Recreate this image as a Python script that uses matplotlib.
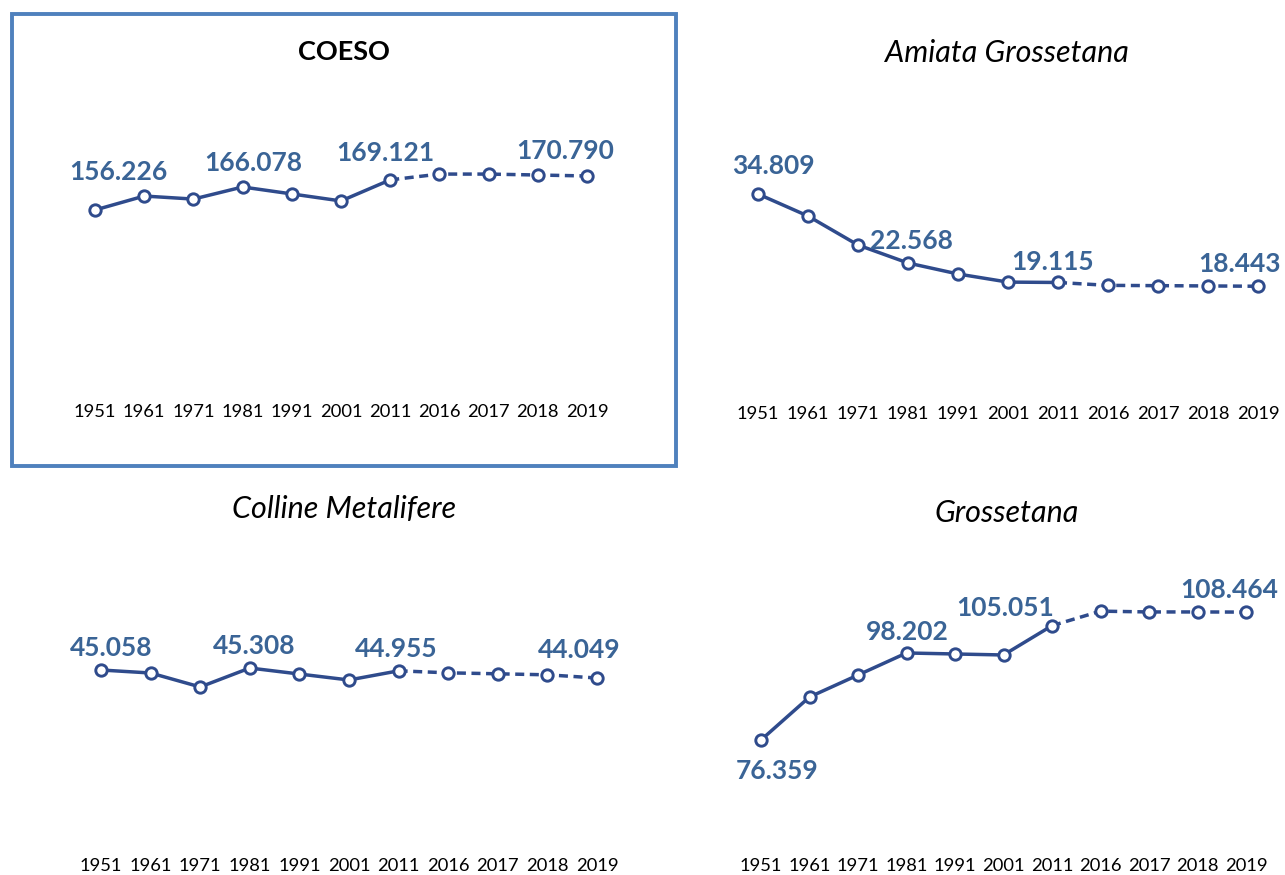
import matplotlib.pyplot as plt
from matplotlib.patches import Rectangle

anni = ["1951", "1961", "1971", "1981", "1991", "2001", "2011", "2016", "2017", "2018", "2019"]

coeso = [156226, 162200, 160900, 166078, 163100, 160100, 169121, 171600, 171600, 171200, 170790]
amiata = [34809, 30900, 25760, 22568, 20620, 19180, 19115, 18600, 18550, 18500, 18443]
colline = [45058, 44680, 42920, 45308, 44550, 43800, 44955, 44700, 44580, 44450, 44049]
grossetana = [76359, 87150, 92670, 98202, 97950, 97700, 105051, 108700, 108500, 108500, 108464]

# indici dei punti con etichetta
etichette = [0, 3, 6, 10]

LINEA = "#2F4B8C"
TESTO = "#3A6496"
W, H = 1285, 875

plt.rcParams['font.family'] = ['Lato', 'DejaVu Sans']

fig = plt.figure(figsize=(W / 100, H / 100), dpi=100)


def assi(left, top, right, bottom):
    return fig.add_axes([left / W, 1 - bottom / H, (right - left) / W, (bottom - top) / H])


def pannello(ax, valori, ylim, offsets):
    x = list(range(len(valori)))
    ax.plot(x[:7], valori[:7], color=LINEA, lw=2.5, zorder=2)
    ax.plot(x[6:], valori[6:], color=LINEA, lw=2.5, ls=(0, (2.6, 1.6)), zorder=2)
    ax.plot(x, valori, ls="none", marker="o", ms=8.2, mfc="white", mec=LINEA, mew=2.1, zorder=3)
    for i, (dx, dy) in zip(etichette, offsets):
        testo = f"{valori[i]:,}".replace(",", ".")
        ax.annotate(testo, (x[i], valori[i]), xytext=(dx, dy), textcoords="offset pixels",
                    ha="center", va="center", fontsize=19, fontweight="bold", color=TESTO)
    ax.set_xlim(-0.5, len(valori) - 0.5)
    ax.set_ylim(*ylim)
    ax.set_xticks(x)
    ax.set_xticklabels(anni, fontsize=13.2)
    ax.set_yticks([])
    ax.tick_params(axis="x", length=0, pad=4)
    for s in ax.spines.values():
        s.set_visible(False)
    ax.patch.set_alpha(0)


ax1 = assi(70.4, 100, 611.6, 398)
pannello(ax1, coeso, (75762, 203306), [(23, 38), (11, 24), (-5, 27), (-22, 25)])

ax2 = assi(733, 100, 1283, 400)
pannello(ax2, amiata, (-1735, 51485), [(15, 28), (3, 22), (-5, 20), (-18, 22)])

ax3 = assi(76.2, 560, 621.8, 852)
pannello(ax3, colline, (22126, 58918), [(10, 22), (4, 22), (-2, 22), (-18, 28)])

ax4 = assi(736.75, 560, 1270.25, 852)
pannello(ax4, grossetana, (48247, 121539), [(16, -31), (1, 21), (-47, 18), (-17, 22)])

fig.text(344 / W, 1 - 52 / H, "COESO", ha="center", va="center", fontsize=19.5, fontweight="bold")
fig.text(1007 / W, 1 - 53 / H, "Amiata Grossetana", ha="center", va="center", fontsize=22, style="italic")
fig.text(344 / W, 1 - 509 / H, "Colline Metalifere", ha="center", va="center", fontsize=22, style="italic")
fig.text(1007 / W, 1 - 513 / H, "Grossetana", ha="center", va="center", fontsize=22, style="italic")

fig.patches.append(Rectangle((12 / W, 1 - 466 / H), 664 / W, 452 / H, transform=fig.transFigure,
                             fill=False, ec="#4F81BD", lw=2.8))

fig.savefig("out.png", dpi=100)
